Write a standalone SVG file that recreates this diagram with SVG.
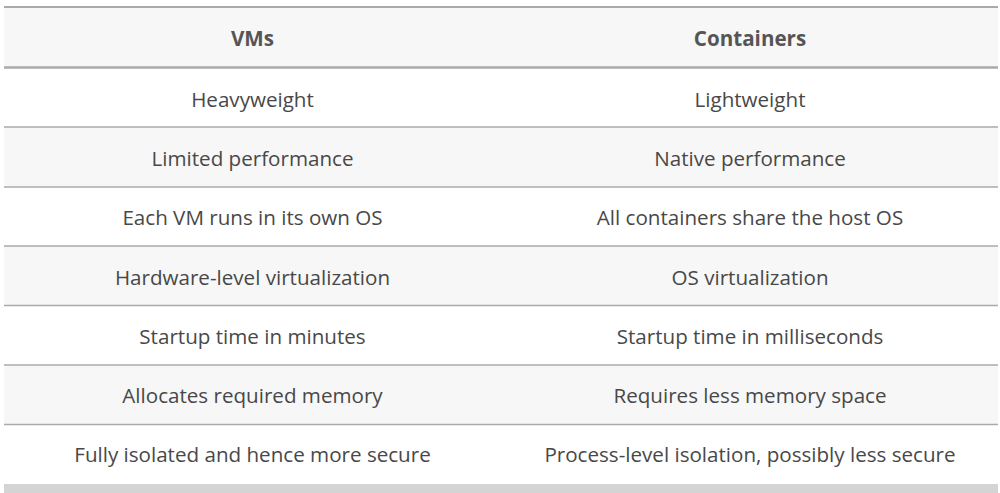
<svg xmlns="http://www.w3.org/2000/svg" width="1000" height="493" viewBox="0 0 1000 493">
<style>
.t{font-family:"Open Sans","Liberation Sans",sans-serif;font-size:20.6px;fill:#484848;text-anchor:middle}
.h{font-weight:bold;font-size:20.6px;fill:#555}
.ln{stroke:#aaa;stroke-width:1.3}
.g{fill:#f7f7f7}
</style>
<rect width="1000" height="493" fill="#fff"/>
<g id="header">
<rect class="g" x="4" y="7" width="994" height="60"/>
<line x1="4" y1="7" x2="998" y2="7" stroke="#aaa" stroke-width="2"/>
<line x1="4" y1="67.5" x2="998" y2="67.5" stroke="#aaa" stroke-width="2.5"/>
<text class="t h" x="252.5" y="45.5">VMs</text>
<text class="t h" x="750" y="45.5">Containers</text>
</g>
<g id="rows">
<rect class="g" x="4" y="127" width="994" height="60"/>
<rect class="g" x="4" y="246" width="994" height="59"/>
<rect class="g" x="4" y="365" width="994" height="59"/>
<rect x="4" y="484" width="994" height="9" fill="#d4d4d4"/>
<line class="ln" x1="4" y1="127" x2="998" y2="127"/>
<line class="ln" x1="4" y1="187" x2="998" y2="187"/>
<line class="ln" x1="4" y1="246" x2="998" y2="246"/>
<line class="ln" x1="4" y1="305.5" x2="998" y2="305.5"/>
<line class="ln" x1="4" y1="365" x2="998" y2="365"/>
<line class="ln" x1="4" y1="424.5" x2="998" y2="424.5"/>
<text class="t" x="252.5" y="106.5">Heavyweight</text>
<text class="t" x="750" y="106.5">Lightweight</text>
<text class="t" x="252.5" y="166">Limited performance</text>
<text class="t" x="750" y="166">Native performance</text>
<text class="t" x="252.5" y="225">Each VM runs in its own OS</text>
<text class="t" x="750" y="225">All containers share the host OS</text>
<text class="t" x="252.5" y="284.5">Hardware-level virtualization</text>
<text class="t" x="750" y="284.5">OS virtualization</text>
<text class="t" x="252.5" y="344">Startup time in minutes</text>
<text class="t" x="750" y="344">Startup time in milliseconds</text>
<text class="t" x="252.5" y="403">Allocates required memory</text>
<text class="t" x="750" y="403">Requires less memory space</text>
<text class="t" x="252.5" y="462">Fully isolated and hence more secure</text>
<text class="t" x="750" y="462">Process-level isolation, possibly less secure</text>
</g>
</svg>
